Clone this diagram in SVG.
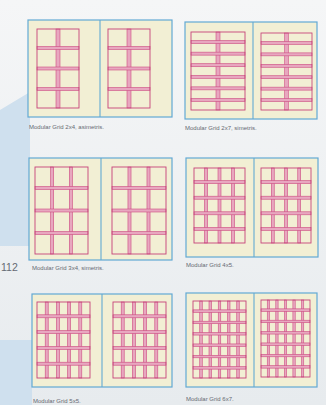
<svg xmlns="http://www.w3.org/2000/svg" xmlns:xlink="http://www.w3.org/1999/xlink" width="326" height="405" viewBox="0 0 326 405">
<style>
.sp{fill:#f2efd4;stroke:#62a9d4;stroke-width:1.2}
.dv{stroke:#62a9d4;stroke-width:1.1}
.gb{fill:none;stroke:#c6437a;stroke-width:0.9}
.gt{fill:#e8a7bf;stroke:#cc4a80;stroke-width:0.6}
.cap{font-family:"Liberation Sans",Arial,sans-serif;font-size:6px;fill:#656a73}
.pg{font-family:"Liberation Sans",Arial,sans-serif;font-size:10.5px;fill:#656a73}
</style>
<defs>
<linearGradient id="bg" x1="0" y1="0" x2="0" y2="1">
<stop offset="0" stop-color="#f5f6f7"/>
<stop offset="1" stop-color="#e7ebee"/>
</linearGradient>
<symbol id="g24" viewBox="0 0 42 79" preserveAspectRatio="none" overflow="visible">
<rect class="gt" x="19" y="0" width="4" height="79"/>
<rect class="gt" x="0" y="17.5" width="42" height="3"/>
<rect class="gt" x="0" y="38" width="42" height="3"/>
<rect class="gt" x="0" y="58.5" width="42" height="3"/>
<rect class="gb" x="0" y="0" width="42" height="79"/>
</symbol>
<symbol id="g27" viewBox="0 0 54 78" preserveAspectRatio="none" overflow="visible">
<rect class="gt" x="25" y="0" width="4" height="78"/>
<rect class="gt" x="0" y="8.57" width="54" height="3"/>
<rect class="gt" x="0" y="20.14" width="54" height="3"/>
<rect class="gt" x="0" y="31.71" width="54" height="3"/>
<rect class="gt" x="0" y="43.29" width="54" height="3"/>
<rect class="gt" x="0" y="54.86" width="54" height="3"/>
<rect class="gt" x="0" y="66.43" width="54" height="3"/>
<rect class="gb" x="0" y="0" width="54" height="78"/>
</symbol>
<symbol id="g34" viewBox="0 0 53 87" preserveAspectRatio="none" overflow="visible">
<rect class="gt" x="15.67" y="0" width="3" height="87"/>
<rect class="gt" x="34.33" y="0" width="3" height="87"/>
<rect class="gt" x="0" y="19.5" width="53" height="3"/>
<rect class="gt" x="0" y="42" width="53" height="3"/>
<rect class="gt" x="0" y="64.5" width="53" height="3"/>
<rect class="gb" x="0" y="0" width="53" height="87"/>
</symbol>
<symbol id="g45" viewBox="0 0 51 75" preserveAspectRatio="none" overflow="visible">
<rect class="gt" x="10.5" y="0" width="3" height="75"/>
<rect class="gt" x="24" y="0" width="3" height="75"/>
<rect class="gt" x="37.5" y="0" width="3" height="75"/>
<rect class="gt" x="0" y="12.6" width="51" height="3"/>
<rect class="gt" x="0" y="28.2" width="51" height="3"/>
<rect class="gt" x="0" y="43.8" width="51" height="3"/>
<rect class="gt" x="0" y="59.4" width="51" height="3"/>
<rect class="gb" x="0" y="0" width="51" height="75"/>
</symbol>
<symbol id="g55" viewBox="0 0 53 76" preserveAspectRatio="none" overflow="visible">
<rect class="gt" x="8.2" y="0" width="3" height="76"/>
<rect class="gt" x="19.4" y="0" width="3" height="76"/>
<rect class="gt" x="30.6" y="0" width="3" height="76"/>
<rect class="gt" x="41.8" y="0" width="3" height="76"/>
<rect class="gt" x="0" y="12.8" width="53" height="3"/>
<rect class="gt" x="0" y="28.6" width="53" height="3"/>
<rect class="gt" x="0" y="44.4" width="53" height="3"/>
<rect class="gt" x="0" y="60.2" width="53" height="3"/>
<rect class="gb" x="0" y="0" width="53" height="76"/>
</symbol>
<symbol id="g67" viewBox="0 0 53 77" preserveAspectRatio="none" overflow="visible">
<rect class="gt" x="6.75" y="0" width="2.5" height="77"/>
<rect class="gt" x="16" y="0" width="2.5" height="77"/>
<rect class="gt" x="25.25" y="0" width="2.5" height="77"/>
<rect class="gt" x="34.5" y="0" width="2.5" height="77"/>
<rect class="gt" x="43.75" y="0" width="2.5" height="77"/>
<rect class="gt" x="0" y="8.86" width="53" height="2.5"/>
<rect class="gt" x="0" y="20.21" width="53" height="2.5"/>
<rect class="gt" x="0" y="31.57" width="53" height="2.5"/>
<rect class="gt" x="0" y="42.93" width="53" height="2.5"/>
<rect class="gt" x="0" y="54.29" width="53" height="2.5"/>
<rect class="gt" x="0" y="65.64" width="53" height="2.5"/>
<rect class="gb" x="0" y="0" width="53" height="77"/>
</symbol>
</defs>
<rect x="0" y="0" width="326" height="405" fill="url(#bg)"/>
<polygon points="0,110 30,92 30,246 0,246" fill="#cfe0ee"/>
<rect x="0" y="340" width="32" height="65" fill="#cfe0ee"/>

<g id="spread-2x4">
<rect class="sp" x="28" y="20" width="144" height="97"/>
<line class="dv" x1="100" y1="20" x2="100" y2="117"/>
<use xlink:href="#g24" x="37" y="29" width="42" height="79"/>
<use xlink:href="#g24" x="108" y="29" width="42" height="79"/>
<text class="cap" x="29" y="129">Modular Grid 2x4, asimetris.</text>
</g>

<g id="spread-2x7">
<rect class="sp" x="185" y="22" width="132" height="97"/>
<line class="dv" x1="253" y1="22" x2="253" y2="119"/>
<use xlink:href="#g27" x="191" y="32" width="54" height="78"/>
<use xlink:href="#g27" x="261" y="33" width="51" height="77"/>
<text class="cap" x="185" y="130">Modular Grid 2x7, simetris.</text>
</g>

<g id="spread-3x4">
<rect class="sp" x="29" y="158" width="143" height="102"/>
<line class="dv" x1="101" y1="158" x2="101" y2="260"/>
<use xlink:href="#g34" x="35" y="167" width="53" height="87"/>
<use xlink:href="#g34" x="112" y="167" width="54" height="87"/>
<text class="cap" x="32" y="270">Modular Grid 3x4, simetris.</text>
</g>

<text class="pg" x="1" y="271">112</text>

<g id="spread-4x5">
<rect class="sp" x="186" y="158" width="132" height="99"/>
<line class="dv" x1="254" y1="158" x2="254" y2="257"/>
<use xlink:href="#g45" x="194" y="168" width="51" height="75"/>
<use xlink:href="#g45" x="261" y="168" width="50" height="75"/>
<text class="cap" x="186" y="267">Modular Grid 4x5.</text>
</g>

<g id="spread-5x5">
<rect class="sp" x="32" y="294" width="140" height="93"/>
<line class="dv" x1="102" y1="294" x2="102" y2="387"/>
<use xlink:href="#g55" x="37" y="302" width="53" height="76"/>
<use xlink:href="#g55" x="113" y="302" width="53" height="76"/>
<text class="cap" x="33" y="403">Modular Grid 5x5.</text>
</g>

<g id="spread-6x7">
<rect class="sp" x="186" y="293" width="131" height="94"/>
<line class="dv" x1="254" y1="293" x2="254" y2="387"/>
<use xlink:href="#g67" x="193" y="301" width="53" height="77"/>
<use xlink:href="#g67" x="261" y="300" width="49" height="77"/>
<text class="cap" x="186" y="401">Modular Grid 6x7.</text>
</g>
</svg>
